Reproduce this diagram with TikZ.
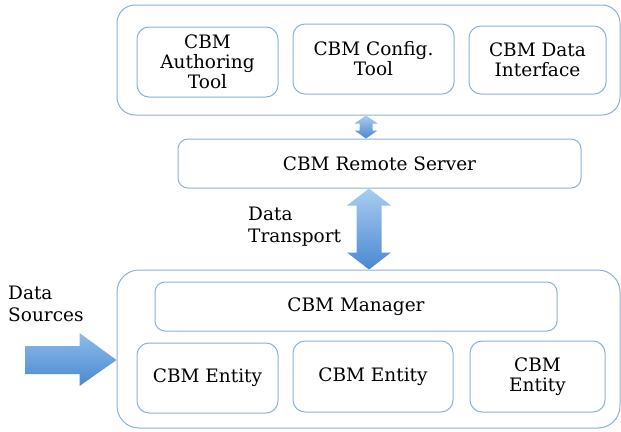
\documentclass[tikz,border=0pt]{standalone}
\usepackage{fontspec}
\setmainfont{DejaVu Serif}
\usetikzlibrary{calc}
\definecolor{edge}{HTML}{8DB0D8}
\definecolor{arrtop}{HTML}{A9CDF2}
\definecolor{arrbot}{HTML}{4A88CF}
\definecolor{arrmid}{HTML}{8DBCEB}
\tikzset{
  outerbox/.style={draw=edge, line width=1pt, rounded corners=18pt},
  inbox/.style={draw=edge, line width=1pt, rounded corners=12pt, align=center, font=\fontsize{18.5}{20}\selectfont, inner sep=0pt},
  lbl/.style={align=left, anchor=north west, font=\fontsize{18.5}{22}\selectfont, inner sep=0pt},
  arrowfill/.style={top color=arrtop, bottom color=arrbot, draw=none},
}
\begin{document}
\begin{tikzpicture}[x=1pt,y=-1pt]
\useasboundingbox (0,0) rectangle (621,431);
% top group
\node[outerbox, minimum width=503pt, minimum height=110pt] (top) at (368.5,60) {};
\node[inbox, minimum width=141pt, minimum height=70pt] (auth) at (207.5,62) {CBM\\Authoring\\Tool};
\node[inbox, minimum width=161pt, minimum height=70pt] (conf) at (373.5,59) {CBM Config.\\Tool};
\node[inbox, minimum width=137pt, minimum height=68pt] (dint) at (537.5,60) {CBM Data\\Interface};
% server
\node[inbox, minimum width=403pt, minimum height=49pt, rounded corners=10pt] (srv) at (379.5,163.5) {CBM Remote Server};
% bottom group
\node[outerbox, minimum width=503pt, minimum height=158pt, rounded corners=22pt] (bot) at (368.5,349) {};
\node[inbox, minimum width=402pt, minimum height=49pt, rounded corners=10pt] (mgr) at (356,306.5) {CBM Manager};
\node[inbox, minimum width=141pt, minimum height=70pt] (ent1) at (207.5,378) {CBM Entity};
\node[inbox, minimum width=160pt, minimum height=71pt] (ent2) at (373,376.5) {CBM Entity};
\node[inbox, minimum width=135pt, minimum height=71pt] (ent3) at (537.5,376.5) {CBM\\Entity};
% labels
\node[lbl] (dt) at (248,207) {Data\\Transport};
\node[lbl] (ds) at (8,286) {Data\\Sources};
% small double arrow top <-> server
\path let \p1=(top.south), \p2=(srv.north) in
  coordinate (sa) at (366,\y1) coordinate (sb) at (366,\y2);
\shade[arrowfill] (sa) -- ++(11.5,8) -- ++(-5,0) -- ($(sb)+(6.5,-8)$) -- ++(5,0) -- (sb)
  -- ++(-11.5,-8) -- ++(5,0) -- ($(sa)+(-6.5,8)$) -- ++(-5,0) -- cycle;
% big double arrow server <-> bottom
\path let \p1=(srv.south), \p2=(bot.north) in
  coordinate (ba) at (369,\y1) coordinate (bb) at (369,\y2);
\shade[arrowfill] (ba) -- ++(22,17) -- ++(-9.5,0) -- ($(bb)+(12.5,-17)$) -- ++(9.5,0) -- (bb)
  -- ++(-22,-17) -- ++(9.5,0) -- ($(ba)+(-12.5,17)$) -- ++(-9.5,0) -- cycle;
% data sources arrow
\coordinate (dsa) at (25,360);
\path let \p1=(bot.west) in coordinate (dsb) at (\x1,360);
\shade[top color=arrmid, bottom color=arrbot, draw=none] (dsa) -- ++(0,-14) -- ($(dsb)+(-37,-14)$) -- ++(0,-13)
  -- (dsb) -- ($(dsb)+(-37,26)$) -- ++(0,-12) -- ($(dsa)+(0,14)$) -- cycle;
\end{tikzpicture}
\end{document}
